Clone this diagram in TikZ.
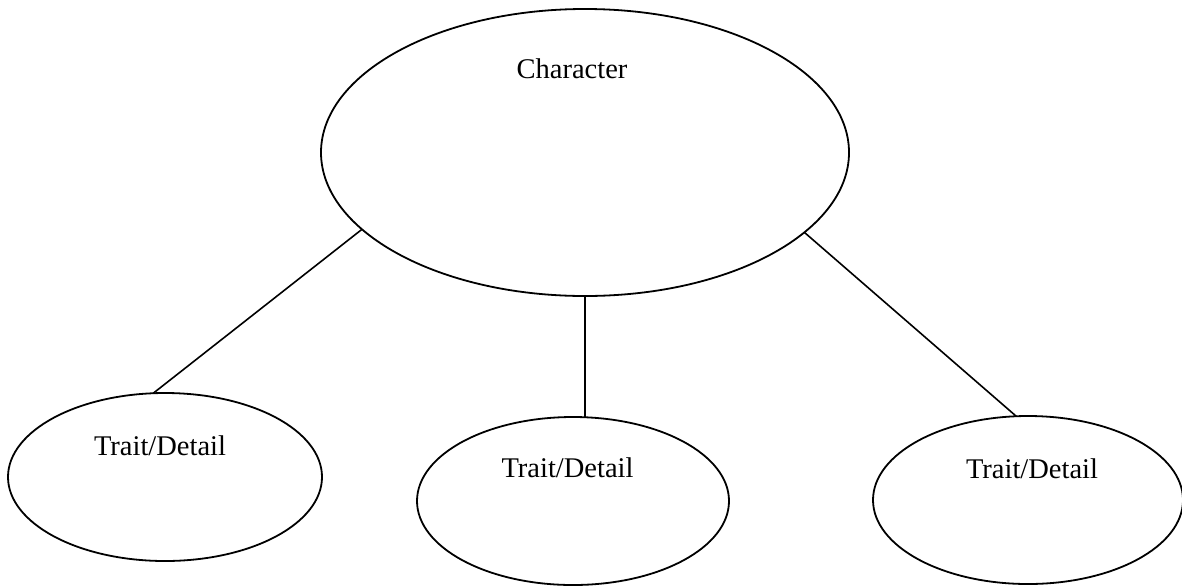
\documentclass[tikz,border=0pt]{standalone}
\usepackage{fontspec}
\setmainfont{Liberation Serif}
\usetikzlibrary{shapes.geometric}
\tikzset{
  oval/.style={draw, ellipse, line width=1.8pt, inner sep=0pt, outer sep=0pt},
  lbl/.style={font=\fontsize{28.5}{34}\selectfont, inner sep=0pt, anchor=base},
  link/.style={line width=1.6pt}
}
\begin{document}
\begin{tikzpicture}[x=1pt,y=-1pt]
\useasboundingbox[fill=white] (0,0) rectangle (1182,587);
\node[oval, minimum width=528pt, minimum height=287pt] (big) at (585,152.5) {};
\node[oval, minimum width=314pt, minimum height=168pt] (left) at (165,477) {};
\node[oval, minimum width=312pt, minimum height=168pt] (mid) at (573,501) {};
\node[oval, minimum width=310pt, minimum height=168pt] (right) at (1028,500) {};
\node[lbl] (tbig) at (572,78) {Character};
\node[lbl] (tleft) at (160,455) {Trait/Detail};
\node[lbl] (tmid) at (567.5,477) {Trait/Detail};
\node[lbl] (tright) at (1032,478) {Trait/Detail};
\draw[link] (big.199) -- (left.98);
\draw[link] (big.south) -- (big.south |- mid.north);
\draw[link] (big.340) -- (right.98);
\end{tikzpicture}
\end{document}
